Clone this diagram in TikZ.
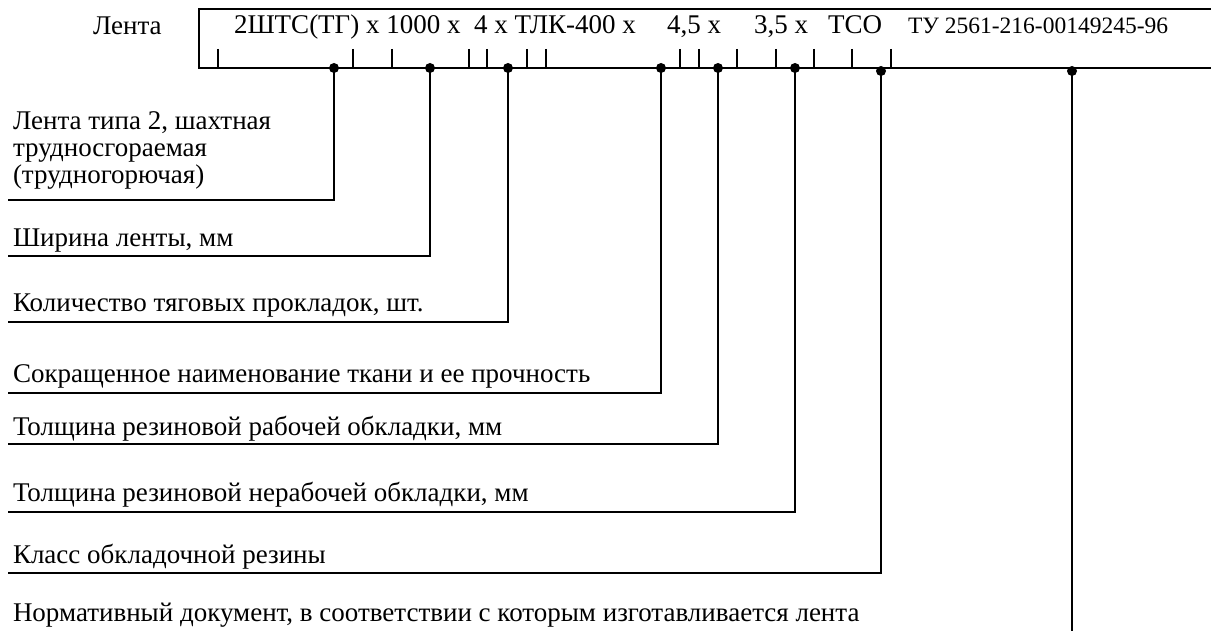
\documentclass[tikz,border=0pt]{standalone}
\usepackage{fontspec}
\setmainfont{Liberation Serif}
\begin{document}
\begin{tikzpicture}[x=1pt,y=-1pt,line width=2pt,line join=miter,
  lbl/.style={anchor=base west,inner sep=0pt,font=\fontsize{27}{28}\selectfont},
  lbls/.style={anchor=base west,inner sep=0pt,font=\fontsize{23.5}{24}\selectfont},
  dotn/.style={circle,fill,inner sep=0pt,minimum size=10pt},
  conn/.style={line width=2pt}]
\useasboundingbox (0,0) rectangle (1211,631);
% frame
\draw (1211,9) -- (199,9) -- (199,68) -- (1211,68);
% ticks
\foreach \x in {218,353,392,469,487,527,546,680,699,737,776,814,852,891}
  \draw (\x,49) -- (\x,68);
% header texts
\node[lbl] (hlenta) at (92,35) {Лента};
\node[lbl] (h1) at (233,34) {2ШТС(ТГ) x 1000 x\ \ 4 x ТЛК-400 x};
\node[lbl] (h5) at (666,34) {4,5 x};
\node[lbl] (h6) at (753,34) {3,5 x};
\node[lbl] (h7) at (827,34) {ТСО};
\node[lbls] (h8) at (907,34) {ТУ 2561-216-00149245-96};
% dots
\node[dotn] (d1) at (334,68) {};
\node[dotn] (d2) at (430,68) {};
\node[dotn] (d3) at (508,68) {};
\node[dotn] (d4) at (661,68) {};
\node[dotn] (d5) at (718,68) {};
\node[dotn] (d6) at (795,68) {};
\node[dotn] (d7) at (881,71) {};
\node[dotn] (d8) at (1072,71) {};
% line ends
\coordinate (e1) at (8,200);
\coordinate (e2) at (8,256);
\coordinate (e3) at (8,322);
\coordinate (e4) at (8,393);
\coordinate (e5) at (8,444);
\coordinate (e6) at (8,512);
\coordinate (e7) at (8,573);
\coordinate (e8) at (1072,631);
\draw[conn] (d1.center) |- (e1);
\draw[conn] (d2.center) |- (e2);
\draw[conn] (d3.center) |- (e3);
\draw[conn] (d4.center) |- (e4);
\draw[conn] (d5.center) |- (e5);
\draw[conn] (d6.center) |- (e6);
\draw[conn] (d7.center) |- (e7);
\draw[conn] (d8.center) -- (e8);
% labels
\node[lbl] (l1a) at (12,130) {Лента типа 2, шахтная};
\node[lbl] (l1b) at (12,157) {трудносгораемая};
\node[lbl] (l1c) at (12,184) {(трудногорючая)};
\node[lbl] (l2) at (12,247) {Ширина ленты, мм};
\node[lbl] (l3) at (12,312) {Количество тяговых прокладок, шт.};
\node[lbl] (l4) at (12,382) {Сокращенное наименование ткани и ее прочность};
\node[lbl] (l5) at (12,435) {Толщина резиновой рабочей обкладки, мм};
\node[lbl] (l6) at (12,501) {Толщина резиновой нерабочей обкладки, мм};
\node[lbl] (l7) at (12,563) {Класс обкладочной резины};
\node[lbl] (l8) at (12,621) {Нормативный документ, в соответствии с которым изготавливается лента};
\end{tikzpicture}
\end{document}
